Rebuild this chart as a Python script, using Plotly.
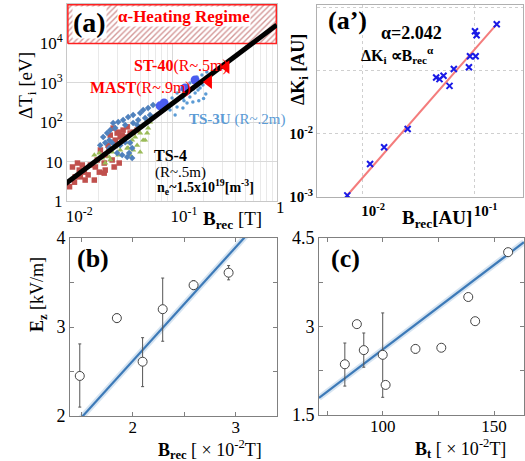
import plotly.graph_objects as go
import numpy as np

W, H = 525, 461
FONT = "Liberation Serif"

# ---------------- Panel (a): Delta T_i vs B_rec ----------------
TS4_RED_X = [0.0105, 0.0125, 0.0139, 0.0130, 0.0145, 0.0148, 0.0119, 0.0112, 0.0133, 0.0181,
             0.0185, 0.0202, 0.0193, 0.0225, 0.0225, 0.0230, 0.0268, 0.0280, 0.0313, 0.0334,
             0.0299, 0.0357, 0.0398, 0.0280, 0.0274, 0.0306, 0.0341, 0.0320, 0.0373, 0.0425,
             0.0464, 0.0287, 0.0257, 0.0158, 0.0166, 0.0207, 0.0245, 0.0117, 0.0230, 0.0250]
TS4_RED_Y = [2.3, 9.2, 8.2, 6.1, 5.4, 3.4, 4.1, 7.3, 4.1, 3.4,
             7.3, 5.4, 11.0, 9.2, 5.1, 6.1, 11.0, 7.3, 9.2, 47,
             53, 42, 53, 31, 71, 56, 63, 42, 76, 56,
             63, 35, 47, 4.6, 8.2, 19.7, 26, 3.0, 14.7, 19.7]

TS4_GREEN_X = [0.0181, 0.0202, 0.0216, 0.0230, 0.0185, 0.0251, 0.0268, 0.0287, 0.0320, 0.0373,
               0.0389, 0.0416, 0.0349, 0.0444, 0.0334, 0.0464, 0.0496, 0.0530, 0.0578, 0.0591,
               0.0496, 0.0425, 0.0381, 0.0617, 0.0257, 0.0306, 0.0398, 0.0553]
TS4_GREEN_Y = [14.7, 16.5, 12.3, 9.2, 9.8, 13.1, 17.5, 23.5, 19.7, 22,
               30, 35, 31, 42, 35, 26, 17.5, 35, 53, 71,
               53, 19.7, 22, 101, 11, 14.7, 14.7, 35]

TS4_BLUE_X = [0.0230, 0.0251, 0.0268, 0.0299, 0.0334, 0.0373, 0.0389, 0.0416, 0.0320, 0.0251,
              0.0220, 0.0240, 0.0257, 0.0274, 0.0306, 0.0341, 0.0381, 0.0425, 0.0496, 0.0530,
              0.0591, 0.0659, 0.0425, 0.0398, 0.0416, 0.0357, 0.0475, 0.0206, 0.0287, 0.0357,
              0.0464, 0.0617, 0.0553]
TS4_BLUE_Y = [30, 35, 30, 16.5, 14.7, 13.1, 16.5, 12.3, 26, 22,
              42, 53, 63, 95, 101, 114, 136, 152, 171, 204,
              229, 273, 95, 30, 22, 31, 114, 26, 71, 85,
              85, 152, 128]

TS3U_X = [0.0857, 0.100, 0.1116, 0.119, 0.139, 0.148, 0.173, 0.193, 0.215, 0.127,
          0.148, 0.166, 0.177, 0.139, 0.158, 0.1116, 0.197, 0.220, 0.177, 0.0957,
          0.107, 0.127, 0.185, 0.200, 0.210, 0.180, 0.145, 0.160, 0.130]
TS3U_Y = [307, 411, 550, 660, 780, 990, 1400, 1580, 1880, 411,
          436, 550, 660, 307, 326, 243, 880, 1320, 1050, 204,
          152, 229, 740, 400, 520, 350, 560, 700, 350]

TS3U_BIG_X = [0.0769, 0.0839, 0.133, 0.166]
TS3U_BIG_Y = [260, 307, 740, 1180]

MAST_X, MAST_Y = [0.225], [1050]
ST40_X, ST40_Y = [0.33], [2500]

FIT_A_COEF, FIT_A_EXP = 10 ** 4.47, 2.0
FIT_A_XRANGE = [0.0095, 1.0]
HEATING_REGIME = [1e4, 1e5]

# ---------------- Panel (a'): Delta K_i vs B_rec ----------------
AP_X = [0.0074, 0.01178, 0.0157, 0.0254, 0.0455, 0.0487, 0.0529, 0.0598, 0.0653, 0.0889,
        0.0908, 0.102, 0.1006, 0.104, 0.157]
AP_Y = [0.00106, 0.00334, 0.00615, 0.01194, 0.0781, 0.0736, 0.0832, 0.0575, 0.1065, 0.113,
        0.169, 0.169, 0.42, 0.363, 0.544]
ALPHA = 2.042
AP_COEF = 23.9
AP_XRANGE = [0.0074, 0.157]

# ---------------- Panel (b): E_z vs B_rec ----------------
B_X = [1.485, 1.845, 2.095, 2.29, 2.59, 2.93]
B_Y = [2.45, 3.10, 2.61, 3.20, 3.47, 3.61]
B_ERR_UP = [0.36, 0.05, 0.27, 0.35, 0.05, 0.08]
B_ERR_DN = [0.35, 0.05, 0.28, 0.36, 0.05, 0.08]
B_FIT = (0.064, 1.278)
B_XRANGE = [1.39, 3.40]

# ---------------- Panel (c): E_z vs B_t ----------------
C_X = [83, 88.4, 91.5, 100, 101.3, 114.7, 126.3, 138.4, 141.5, 156.3]
C_Y = [2.36, 3.04, 2.60, 2.52, 2.01, 2.62, 2.64, 3.50, 3.09, 4.26]
C_ERR_UP = [0.36, 0, 0.29, 0.71, 0, 0.07, 0, 0, 0, 0]
C_ERR_DN = [0.37, 0, 0.29, 0.72, 0, 0.07, 0, 0, 0, 0]
C_FIT = (-0.26, 0.0287)
C_XRANGE = [71.4, 163.4]


def px(x):
    return x / W


def py(y):
    return 1 - y / H


fig = go.Figure()

# ---- (a) ----
bx = [FIT_A_XRANGE[0] * 1.065, 0.99, 0.99, FIT_A_XRANGE[0] * 1.065, FIT_A_XRANGE[0] * 1.065]
by = [HEATING_REGIME[0], HEATING_REGIME[0], HEATING_REGIME[1] * 0.96, HEATING_REGIME[1] * 0.96, HEATING_REGIME[0]]
fig.add_trace(go.Scatter(x=bx, y=by, mode="lines", fill="toself",
                         line=dict(color="#ff2020", width=1.5),
                         fillcolor="white",
                         fillpattern=dict(shape="/", fgcolor="#a83030", bgcolor="white", size=4, solidity=0.35),
                         xaxis="x", yaxis="y", hoverinfo="skip"))
fig.add_trace(go.Scatter(x=TS4_RED_X, y=TS4_RED_Y, mode="markers",
                         marker=dict(symbol="square", size=5.5, color="#c0504d"), xaxis="x", yaxis="y"))
fig.add_trace(go.Scatter(x=TS4_GREEN_X, y=TS4_GREEN_Y, mode="markers",
                         marker=dict(symbol="triangle-up", size=5.5, color="#9bbb59"), xaxis="x", yaxis="y"))
fig.add_trace(go.Scatter(x=TS4_BLUE_X, y=TS4_BLUE_Y, mode="markers",
                         marker=dict(symbol="diamond", size=5, color="#4f81bd"), xaxis="x", yaxis="y"))
fig.add_trace(go.Scatter(x=TS3U_X, y=TS3U_Y, mode="markers",
                         marker=dict(symbol="circle", size=3.5, color="#5b9bd5"), xaxis="x", yaxis="y"))
fig.add_trace(go.Scatter(x=TS3U_BIG_X, y=TS3U_BIG_Y, mode="markers",
                         marker=dict(symbol="circle", size=9, color="#4a5cf0"), xaxis="x", yaxis="y"))
fx = np.logspace(np.log10(FIT_A_XRANGE[0]), np.log10(FIT_A_XRANGE[1]), 50)
fig.add_trace(go.Scatter(x=fx, y=FIT_A_COEF * fx ** FIT_A_EXP, mode="lines",
                         line=dict(color="black", width=5), xaxis="x", yaxis="y"))
fig.add_trace(go.Scatter(x=MAST_X + ST40_X, y=MAST_Y + ST40_Y, mode="markers",
                         marker=dict(symbol="triangle-left", size=12, color="#ff0000"), xaxis="x", yaxis="y"))

# ---- (a') ----
ax_ = np.logspace(np.log10(AP_XRANGE[0]), np.log10(AP_XRANGE[1]), 30)
fig.add_trace(go.Scatter(x=ax_, y=AP_COEF * ax_ ** ALPHA, mode="lines",
                         line=dict(color="#f47c7c", width=2), xaxis="x2", yaxis="y2"))
fig.add_trace(go.Scatter(x=AP_X, y=AP_Y, mode="markers",
                         marker=dict(symbol="x-thin", size=6, color="#1a1ae6", line=dict(width=2, color="#1a1ae6")),
                         xaxis="x2", yaxis="y2"))

# ---- (b) ----
bl = np.array(B_XRANGE)
fig.add_trace(go.Scatter(x=bl, y=B_FIT[0] + B_FIT[1] * bl, mode="lines",
                         line=dict(color="rgba(70,130,190,0.22)", width=6), xaxis="x3", yaxis="y3"))
fig.add_trace(go.Scatter(x=bl, y=B_FIT[0] + B_FIT[1] * bl, mode="lines",
                         line=dict(color="#3d7ab8", width=2.2), xaxis="x3", yaxis="y3"))
fig.add_trace(go.Scatter(x=B_X, y=B_Y, mode="markers",
                         error_y=dict(type="data", symmetric=False, array=B_ERR_UP, arrayminus=B_ERR_DN,
                                      color="#555555", thickness=1, width=1.5),
                         marker=dict(symbol="circle", size=9, color="white", line=dict(color="#444444", width=1)),
                         xaxis="x3", yaxis="y3"))

# ---- (c) ----
cl = np.array(C_XRANGE)
fig.add_trace(go.Scatter(x=cl, y=C_FIT[0] + C_FIT[1] * cl, mode="lines",
                         line=dict(color="rgba(70,130,190,0.22)", width=6), xaxis="x4", yaxis="y4"))
fig.add_trace(go.Scatter(x=cl, y=C_FIT[0] + C_FIT[1] * cl, mode="lines",
                         line=dict(color="#3d7ab8", width=2.2), xaxis="x4", yaxis="y4"))
fig.add_trace(go.Scatter(x=C_X, y=C_Y, mode="markers",
                         error_y=dict(type="data", symmetric=False, array=C_ERR_UP, arrayminus=C_ERR_DN,
                                      color="#555555", thickness=1, width=1.5),
                         marker=dict(symbol="circle", size=9, color="white", line=dict(color="#444444", width=1)),
                         xaxis="x4", yaxis="y4"))

tf = dict(family=FONT, size=17, color="black")
minor_x = [m * d for d in (0.01, 0.1) for m in range(2, 10)]

framed = dict(showline=True, linecolor="#808080", mirror="ticks", ticks="inside", ticklen=4,
              tickcolor="#808080", showgrid=False, zeroline=False, automargin=False)
yfont = dict(family=FONT, size=18, color="black")
xfont = dict(family=FONT, size=17, color="black")

fig.update_layout(
    width=W, height=H, margin=dict(l=0, r=0, t=0, b=0, autoexpand=False),
    paper_bgcolor="white", plot_bgcolor="white", showlegend=False,
    font=dict(family=FONT, color="black"),
    xaxis=dict(type="log", domain=[px(67), px(277)], range=[-2.003, 0.002], anchor="y",
               tickvals=[0.01, 0.1, 1], ticktext=["10<sup>-2</sup>", "10<sup>-1</sup>", ""],
               ticklabelshift=12,
               showgrid=True, gridcolor="#d9d9d9", ticks="", automargin=False,
               minor=dict(tickvals=minor_x, showgrid=True, gridcolor="#e9e9e9"),
               showline=True, linecolor="#c8c8c8", mirror=True, zeroline=False, tickfont=tf),
    yaxis=dict(type="log", domain=[py(201), py(4)], range=[0, 5], anchor="x",
               tickvals=[1, 10, 100, 1e3, 1e4, 1e5],
               ticktext=["1", "10", "10<sup>2</sup>", "10<sup>3</sup>", "10<sup>4</sup>", "10<sup>5</sup>"],
               showgrid=True, gridcolor="#d9d9d9", ticks="", automargin=False,
               showline=True, linecolor="#c8c8c8", mirror=True, zeroline=False, tickfont=tf),
    xaxis2=dict(type="log", domain=[px(317), px(523)], range=[-2.40, -0.571], anchor="y2",
                tickvals=[0.01, 0.1], ticktext=["<b>10<sup>-2</sup></b>", "<b>10<sup>-1</sup></b>"],
                ticklabelshift=11,
                showgrid=True, gridcolor="#cfcfcf", griddash="dot", ticks="", automargin=False,
                showline=True, linecolor="#b0b0b0", mirror=True, zeroline=False,
                tickfont=dict(family=FONT, size=15, color="black")),
    yaxis2=dict(type="log", domain=[py(197), py(5)], range=[-3, 0.04], anchor="x2",
                tickvals=[1e-3, 1e-2, 1e-1, 1],
                ticktext=["<b>10<sup>-3</sup></b>", "<b>10<sup>-2</sup></b>", "", "<b>1</b>"],
                showgrid=True, gridcolor="#cfcfcf", griddash="dot", ticks="", automargin=False,
                showline=True, linecolor="#b0b0b0", mirror=True, zeroline=False,
                tickfont=dict(family=FONT, size=15, color="black")),
    xaxis3=dict(domain=[px(70), px(277)], range=B_XRANGE, anchor="y3", ticklabelstandoff=-4,
                tickvals=[1.5, 2, 2.5, 3], ticktext=["", "2", "", "3"], tickfont=xfont, **framed),
    yaxis3=dict(domain=[py(416), py(238)], range=[2, 4], anchor="x3",
                tickvals=[2, 2.5, 3, 3.5, 4], ticktext=["2", "", "3", "", "4"], tickfont=yfont, **framed),
    xaxis4=dict(domain=[px(319), 0.998], range=C_XRANGE, anchor="y4", ticklabelstandoff=-4,
                tickvals=[75, 100, 125, 150], ticktext=["", "100", "", "150"], tickfont=xfont, **framed),
    yaxis4=dict(domain=[py(415), py(238)], range=[1.5, 4.5], anchor="x4",
                tickvals=[1.5, 2.25, 3, 3.75, 4.5], ticktext=["1.5", "", "3", "", "4.5"], tickfont=yfont, **framed),
)


def ann(text, x, y, size, color="black", angle=0, bg=None, xanchor="center"):
    d = dict(text=text, x=px(x), y=py(y), xref="paper", yref="paper", showarrow=False,
             xanchor=xanchor, yanchor="middle", textangle=angle,
             font=dict(family=FONT, size=size, color=color))
    if bg:
        d["bgcolor"] = bg
        d["borderpad"] = 0
    fig.add_annotation(**d)


# "1" tick label at the right end of panel (a) x axis
ann("1", 280, 207, 17)

# panel (a) texts
ann("<b>(a)</b>", 89, 22, 28, bg="white")
ann("<b>α-Heating Regime</b>", 184, 16, 17, color="#ff0000", bg="white")
ann("<b>ST-40</b>(R~.5m)", 181, 66, 16, color="#ff0000")
ann("<b>MAST</b>(R~.9m)", 140, 88, 16, color="#ff0000")
ann("<b>TS-3U</b> (R~.2m)", 237, 119, 15, color="#5b9bd5")
ann("<b>TS-4</b>", 170, 155, 16)
ann("(R~.5m)", 180, 172, 15)
ann("<b>n<sub>e</sub>~1.5x10<sup>19</sup>[m<sup>-3</sup>]</b>", 205, 187, 14)
ann("ΔT<sub>i</sub> [eV]", 27, 86, 19, angle=-90)
ann("<b>B<sub>rec</sub></b> [T]", 232, 220, 19)

# panel (a') texts
ann("<b>(a’)</b>", 347, 21, 26)
ann("<b>α=2.042</b>", 411, 33, 18)
ann("<b>ΔK<sub>i</sub> ∝B<sub>rec</sub><sup>α</sup></b>", 397, 55, 16)
ann("<b>ΔK<sub>i</sub> [AU]</b>", 300, 70, 18, angle=-90)
ann("<b>B<sub>rec</sub>[AU]</b>", 437, 219, 19)

# panel (b) texts
ann("<b>(b)</b>", 93, 258, 26)
ann("<b>E<sub>z</sub></b> [kV/m]", 38, 295, 18, angle=-90)
ann("<b>B<sub>rec</sub></b> [ × 10<sup>-2</sup>T]", 210, 449, 18)

# panel (c) texts
ann("<b>(c)</b>", 345, 258, 26)
ann("<b>B<sub>t</sub></b> [ × 10<sup>-2</sup>T]", 460, 448, 18)

fig.write_html("out.html", post_script="document.body.style.margin='0px';",
               config={"displayModeBar": False})
